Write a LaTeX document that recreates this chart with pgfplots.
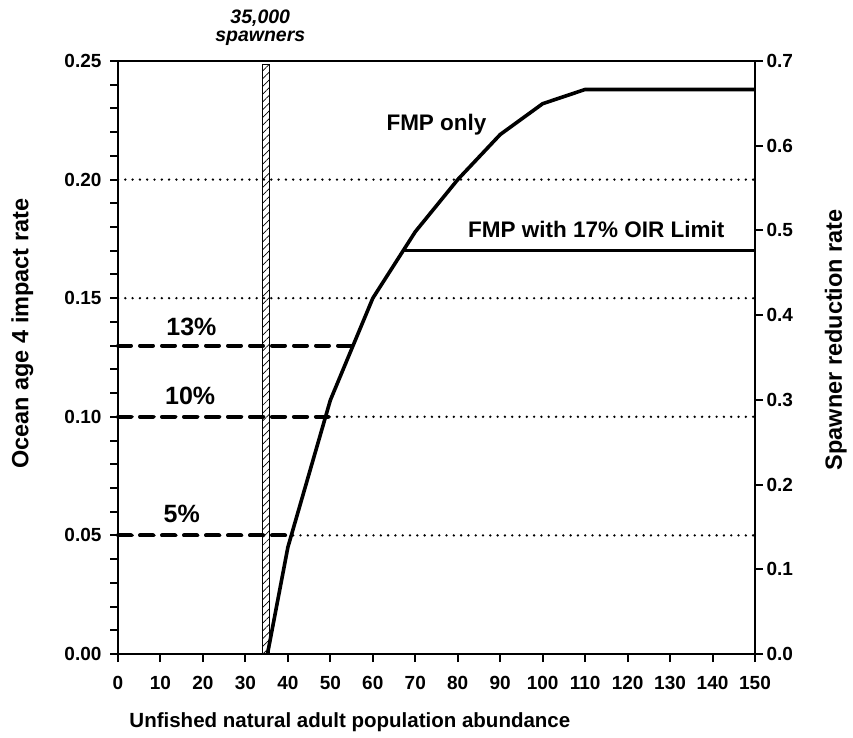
\documentclass[border=0pt]{standalone}
\usepackage{pgfplots}
\pgfplotsset{compat=1.18}
\usepackage{fontspec}
\setmainfont{Liberation Sans}
\usetikzlibrary{patterns.meta}
\begin{document}
\begin{tikzpicture}
\pgfplotsset{
  common/.style={
    at={(0,0)}, anchor=south west,
    scale only axis, width=637pt, height=593pt,
    xmin=0, xmax=150,
    tick align=outside,
    axis line style={line width=2.5pt},
    every tick/.style={black, line width=2pt},
    major tick length=8pt, minor tick length=8pt,
    ticklabel style={font=\fontsize{19}{19}\selectfont\bfseries},
    /pgf/number format/assume math mode=true,
    clip=false,
  }
}
\begin{axis}[common,
  ymin=0, ymax=0.25,
  xtick={0,10,...,150},
  ytick={0,0.05,0.1,0.15,0.2,0.25},
  yticklabels={0.00,0.05,0.10,0.15,0.20,0.25},
  minor ytick={0.01,0.02,0.03,0.04,0.06,0.07,0.08,0.09,0.11,0.12,0.13,0.14,0.16,0.17,0.18,0.19,0.21,0.22,0.23,0.24},
  xtick pos=bottom, ytick pos=left,
  xticklabel style={yshift=-11pt},
  yticklabel style={xshift=-5pt},
]
% dotted reference lines
\addplot[line width=2.6pt, dash pattern=on 0pt off 7.3pt, line cap=round] coordinates {(0,0.20) (150,0.20)};
\addplot[line width=2.6pt, dash pattern=on 0pt off 7.3pt, line cap=round] coordinates {(0,0.15) (150,0.15)};
\addplot[line width=2.6pt, dash pattern=on 0pt off 7.3pt, line cap=round] coordinates {(0,0.10) (150,0.10)};
\addplot[line width=2.6pt, dash pattern=on 0pt off 7.3pt, line cap=round] coordinates {(0,0.05) (150,0.05)};
% dashed impact-rate lines
\addplot[line width=4pt, dash pattern=on 13pt off 9pt, line cap=round] coordinates {(0,0.13) (55.5,0.13)};
\addplot[line width=4pt, dash pattern=on 13pt off 9pt, line cap=round] coordinates {(0,0.10) (49.5,0.10)};
\addplot[line width=4pt, dash pattern=on 13pt off 9pt, line cap=round] coordinates {(0,0.05) (41,0.05)};
% 35,000 spawners bar
\addplot[draw=black, line width=0.8pt, pattern={Lines[angle=45,distance=5.5pt,line width=0.7pt]}]
  coordinates {(34.1,0) (34.1,0.2487) (35.6,0.2487) (35.6,0)} \closedcycle;
% FMP only
\addplot[line width=3.6pt, line join=round] coordinates {
 (35.2,0) (40,0.045) (50,0.107) (60,0.150) (70,0.178) (80,0.200)
 (90,0.219) (100,0.232) (110,0.238) (150,0.238)};
% FMP with 17% OIR limit
\addplot[line width=3.2pt] coordinates {(67.2,0.170) (150,0.170)};

\node[font=\fontsize{25}{25}\selectfont\bfseries] at (axis cs:17.3,0.138) {13\%};
\node[font=\fontsize{25}{25}\selectfont\bfseries] at (axis cs:17.0,0.109) {10\%};
\node[font=\fontsize{25}{25}\selectfont\bfseries] at (axis cs:15.0,0.059) {5\%};
\node[font=\fontsize{22.5}{22.5}\selectfont\bfseries] at (axis cs:75,0.223) {FMP only};
\node[font=\fontsize{22.5}{22.5}\selectfont\bfseries] at (axis cs:112.6,0.179) {FMP with 17\% OIR Limit};
\node[font=\fontsize{19.5}{19.5}\selectfont\bfseries\itshape] at (axis cs:33.5,0.2681) {35,000};
\node[font=\fontsize{19.5}{19.5}\selectfont\bfseries\itshape] at (axis cs:33.5,0.2597) {spawners};

\node[font=\fontsize{20.5}{20.5}\selectfont\bfseries] at (axis description cs:0.364,-0.115) {Unfished natural adult population abundance};
\node[font=\fontsize{23.5}{23.5}\selectfont\bfseries, rotate=90] at (axis description cs:-0.150,0.54) {Ocean age 4 impact rate};
\node[font=\fontsize{23.5}{23.5}\selectfont\bfseries, rotate=90] at (axis description cs:1.127,0.53) {Spawner reduction rate};
\end{axis}
\begin{axis}[common,
  ymin=0, ymax=0.7,
  axis x line=none, axis y line*=right,
  ytick={0,0.1,0.2,0.3,0.4,0.5,0.6,0.7},
  yticklabels={0.0,0.1,0.2,0.3,0.4,0.5,0.6,0.7},
]
\end{axis}
\pgfresetboundingbox
\path[use as bounding box] (-118pt,-84pt) rectangle (735pt,654pt);
\end{tikzpicture}
\end{document}
